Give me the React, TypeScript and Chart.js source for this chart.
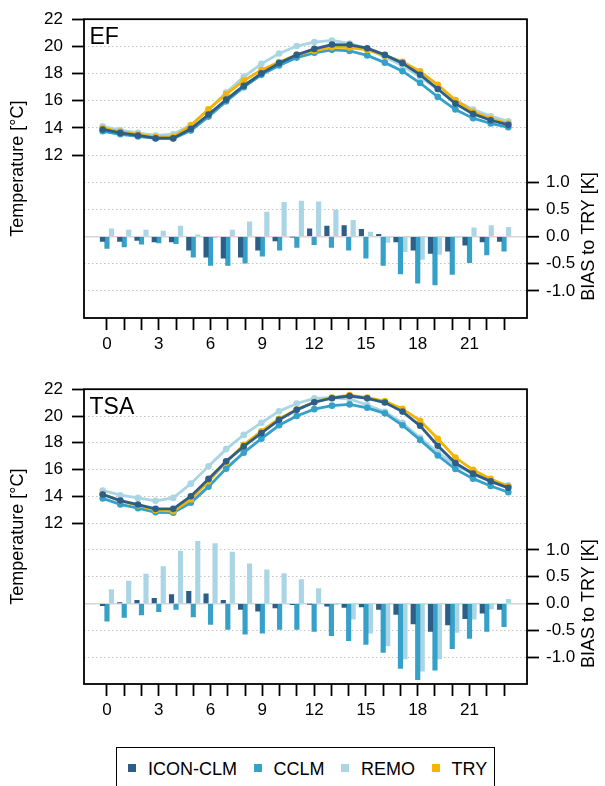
import React, { useEffect, useRef } from "react";
import { Chart, registerables } from "chart.js";

Chart.register(...registerables);

const FAMILY = "'Liberation Sans', Arial, Helvetica, sans-serif";

const HOURS = [0, 1, 2, 3, 4, 5, 6, 7, 8, 9, 10, 11, 12, 13, 14, 15, 16, 17, 18, 19, 20, 21, 22, 23];
const X_LABELED = [0, 3, 6, 9, 12, 15, 18, 21];
const TEMP_TICKS = [12, 14, 16, 18, 20, 22];
const BIAS_TICKS = [-1, -0.5, 0, 0.5, 1];
const SERIES_NAMES = ["ICON-CLM", "CCLM", "REMO", "TRY"];
const SERIES_COLORS = ["#2c5e87", "#35a1c9", "#a9d5e5", "#f6b400"];
const TEMP_TITLE = "Temperature [°C]";
const BIAS_TITLE = "BIAS to TRY [K]";

// ---- EF ----
const EF_ICON = [13.87, 13.62, 13.43, 13.23, 13.23, 13.92, 14.97, 16.07, 17.09, 18.0, 18.75, 19.36, 19.8, 20.12, 20.1, 19.85, 19.36, 18.75, 17.9, 16.85, 15.77, 15.02, 14.55, 14.21];
const EF_CCLM = [13.74, 13.52, 13.36, 13.21, 13.2, 13.79, 14.82, 15.94, 16.98, 17.89, 18.58, 19.16, 19.51, 19.73, 19.65, 19.32, 18.79, 18.16, 17.29, 16.27, 15.34, 14.7, 14.31, 14.03];
const EF_REMO = [14.1, 13.83, 13.62, 13.43, 13.52, 14.2, 15.33, 16.59, 17.74, 18.7, 19.46, 20.01, 20.3, 20.42, 20.2, 19.8, 19.21, 18.57, 17.73, 16.83, 16.03, 15.34, 14.85, 14.47];
const EF_TRY = [13.96, 13.71, 13.5, 13.33, 13.33, 14.17, 15.35, 16.47, 17.47, 18.25, 18.83, 19.36, 19.66, 19.93, 19.9, 19.72, 19.32, 18.85, 18.15, 17.16, 16.04, 15.18, 14.65, 14.3];
const EF_BIAS_ICON = [-0.09, -0.09, -0.07, -0.1, -0.1, -0.25, -0.38, -0.4, -0.38, -0.25, -0.08, -0.01, 0.14, 0.19, 0.2, 0.13, 0.04, -0.1, -0.25, -0.31, -0.27, -0.16, -0.1, -0.09];
const EF_BIAS_CCLM = [-0.22, -0.19, -0.14, -0.12, -0.13, -0.38, -0.53, -0.53, -0.49, -0.36, -0.25, -0.2, -0.15, -0.2, -0.25, -0.4, -0.53, -0.69, -0.86, -0.89, -0.7, -0.48, -0.34, -0.27];
const EF_BIAS_REMO = [0.14, 0.12, 0.12, 0.1, 0.19, 0.03, -0.02, 0.12, 0.27, 0.45, 0.63, 0.65, 0.64, 0.49, 0.3, 0.08, -0.11, -0.28, -0.42, -0.33, -0.01, 0.16, 0.2, 0.17];

// ---- TSA ----
const TSA_ICON = [13.99, 13.54, 13.25, 12.93, 12.93, 13.86, 15.14, 16.44, 17.54, 18.52, 19.5, 20.24, 20.8, 21.1, 21.26, 21.09, 20.78, 20.11, 19.06, 17.59, 16.31, 15.53, 14.96, 14.48];
const TSA_CCLM = [13.7, 13.26, 12.98, 12.68, 12.65, 13.38, 14.57, 15.9, 17.08, 18.11, 19.1, 19.78, 20.29, 20.55, 20.64, 20.39, 19.98, 19.1, 18.02, 16.87, 15.87, 15.16, 14.62, 14.16];
const TSA_REMO = [14.29, 13.94, 13.74, 13.52, 13.74, 14.79, 16.08, 17.34, 18.39, 19.29, 20.14, 20.71, 21.09, 21.14, 21.04, 20.6, 20.1, 19.28, 18.18, 17.08, 16.17, 15.52, 15.04, 14.67];
const TSA_TRY = [14.03, 13.52, 13.19, 12.83, 12.76, 13.63, 14.96, 16.38, 17.65, 18.66, 19.58, 20.26, 20.81, 21.15, 21.33, 21.15, 20.89, 20.31, 19.44, 18.11, 16.71, 15.81, 15.14, 14.59];
const TSA_BIAS_ICON = [-0.04, 0.02, 0.06, 0.1, 0.17, 0.23, 0.18, 0.06, -0.11, -0.14, -0.08, -0.02, -0.01, -0.05, -0.07, -0.06, -0.11, -0.2, -0.38, -0.52, -0.4, -0.28, -0.18, -0.11];
const TSA_BIAS_CCLM = [-0.33, -0.26, -0.21, -0.15, -0.11, -0.25, -0.39, -0.48, -0.57, -0.55, -0.48, -0.48, -0.52, -0.6, -0.69, -0.76, -0.91, -1.21, -1.42, -1.24, -0.84, -0.65, -0.52, -0.43];
const TSA_BIAS_REMO = [0.26, 0.42, 0.55, 0.69, 0.98, 1.16, 1.12, 0.96, 0.74, 0.63, 0.56, 0.45, 0.28, -0.01, -0.29, -0.55, -0.79, -1.03, -1.26, -1.03, -0.54, -0.29, -0.1, 0.08];

const GRID_COLOR = "#c4c4c4";
const ZERO_COLOR = "#d6d6d6";

// layout (pixels)
const AXIS_LEFT_W = 84;
const AXIS_RIGHT_W = 78;
const AXIS_BOTTOM_H = 52;

type PanelProps = {
  name: string;
  top: number;
  height: number;
  padTop: number;
  temps: number[][]; // ICON, CCLM, REMO, TRY
  bias: number[][]; // ICON, CCLM, REMO
};

function toXY(vals: number[]) {
  return HOURS.map((h, i) => ({ x: h, y: vals[i] }));
}

function Panel({ name, top, height, padTop, temps, bias }: PanelProps) {
  const barRef = useRef<HTMLCanvasElement>(null);
  const lineRef = useRef<HTMLCanvasElement>(null);

  useEffect(() => {
    const framePlugin = {
      id: "frame",
      afterDraw(chart: any) {
        const { ctx, chartArea: a } = chart;
        ctx.save();
        ctx.strokeStyle = "#000";
        ctx.lineWidth = 1.8;
        ctx.strokeRect(a.left, a.top, a.right - a.left, a.bottom - a.top);
        ctx.fillStyle = "#000";
        ctx.font = `23px ${FAMILY}`;
        ctx.textAlign = "left";
        ctx.textBaseline = "alphabetic";
        ctx.fillText(name, a.left + 5.5, a.top + 24.3);
        const y0 = chart.scales.yb.getPixelForValue(0);
        ctx.translate(589, y0);
        ctx.rotate(-Math.PI / 2);
        ctx.font = `18px ${FAMILY}`;
        ctx.textAlign = "center";
        ctx.textBaseline = "middle";
        ctx.fillText(BIAS_TITLE, 0, 0);
        ctx.restore();
      },
    };

    const barDs = [0, 1, 2].map((k) => ({
      label: SERIES_NAMES[k],
      data: toXY(bias[k]),
      xAxisID: "x",
      yAxisID: "yb",
      backgroundColor: SERIES_COLORS[k],
      borderWidth: 0,
      barThickness: 4.5,
      grouped: true,
    }));

    const tickFont = { family: FAMILY, size: 17 };

    const barChart = new Chart(barRef.current as HTMLCanvasElement, {
      type: "bar",
      data: { datasets: barDs as any },
      options: {
        animation: false,
        responsive: false,
        maintainAspectRatio: false,
        layout: { padding: { top: padTop, left: 0, right: 0, bottom: 0 } },
        plugins: { legend: { display: false }, tooltip: { enabled: false } },
        scales: {
          x: {
            type: "linear",
            position: "bottom",
            offset: false,
            bounds: "data",
            min: -1.33,
            max: 24.33,
            afterBuildTicks: (s: any) => {
              s.ticks = HOURS.map((v) => ({ value: v }));
            },
            afterFit: (s: any) => {
              s.height = AXIS_BOTTOM_H;
            },
            ticks: {
              autoSkip: false,
              maxRotation: 0,
              minRotation: 0,
              padding: 4,
              color: "#000",
              font: tickFont,
              callback: (v: any) => (X_LABELED.includes(Number(v)) ? String(v) : ""),
            },
            grid: {
              offset: false,
              drawOnChartArea: false,
              drawTicks: true,
              tickLength: 12,
              tickWidth: 1.8,
              tickColor: "#000",
            },
            border: { display: false },
          },
          yt: {
            type: "linear",
            position: "left",
            min: 0,
            max: 22,
            afterBuildTicks: (s: any) => {
              s.ticks = TEMP_TICKS.map((v) => ({ value: v }));
            },
            afterFit: (s: any) => {
              s.width = AXIS_LEFT_W;
            },
            ticks: { color: "#000", font: tickFont, padding: 9 },
            grid: {
              color: GRID_COLOR,
              lineWidth: 1,
              tickLength: 12,
              tickWidth: 1.8,
              tickColor: "#000",
            },
            border: { display: false, dash: [1.5, 2.5] },
            title: {
              display: true,
              text: TEMP_TITLE,
              color: "#000",
              font: { family: FAMILY, size: 18 },
              padding: { top: 7.5, bottom: 0 },
            },
          },
          yb: {
            type: "linear",
            position: "right",
            min: -1.5,
            max: 4,
            afterBuildTicks: (s: any) => {
              s.ticks = BIAS_TICKS.map((v) => ({ value: v }));
            },
            afterFit: (s: any) => {
              s.width = AXIS_RIGHT_W;
            },
            ticks: {
              color: "#000",
              font: tickFont,
              padding: 7,
              callback: (v: any) => Number(v).toFixed(1),
            },
            grid: {
              color: (c: any) => (c.tick && c.tick.value === 0 ? ZERO_COLOR : GRID_COLOR),
              lineWidth: (c: any) => (c.tick && c.tick.value === 0 ? 1.5 : 1),
              tickLength: 12,
              tickWidth: 1.8,
              tickColor: "#000",
            },
            border: {
              display: false,
              dash: (c: any) => (c.tick && c.tick.value === 0 ? [] : [1.5, 2.5]),
            } as any,
          },
        },
      } as any,
      plugins: [framePlugin],
    });

    // draw order: REMO bottom, CCLM, TRY, ICON on top
    const lineOrder = [1, 3, 4, 2];
    const lineDs = [0, 1, 2, 3].map((k) => ({
      label: SERIES_NAMES[k],
      data: toXY(temps[k]),
      borderColor: SERIES_COLORS[k],
      backgroundColor: SERIES_COLORS[k],
      borderWidth: 2.8,
      pointRadius: 3.3,
      pointBorderWidth: 0,
      pointBackgroundColor: SERIES_COLORS[k],
      tension: 0,
      fill: false,
      order: lineOrder[k],
    }));

    const lineChart = new Chart(lineRef.current as HTMLCanvasElement, {
      type: "line",
      data: { datasets: lineDs as any },
      options: {
        animation: false,
        responsive: false,
        maintainAspectRatio: false,
        layout: {
          padding: { top: padTop, left: AXIS_LEFT_W, right: AXIS_RIGHT_W, bottom: AXIS_BOTTOM_H },
        },
        plugins: { legend: { display: false }, tooltip: { enabled: false } },
        scales: {
          x: { type: "linear", display: false, bounds: "data", offset: false, min: -1.06, max: 24.06 },
          y: { type: "linear", display: false, min: 0, max: 22 },
        },
      } as any,
    });

    return () => {
      barChart.destroy();
      lineChart.destroy();
    };
  }, []);

  const st: React.CSSProperties = { position: "absolute", left: 0, top, width: 605, height, display: "block" };
  return (
    <>
      <canvas ref={barRef} width={605} height={height} style={st} />
      <canvas ref={lineRef} width={605} height={height} style={{ ...st, pointerEvents: "none" }} />
    </>
  );
}

function Legend() {
  return (
    <div
      style={{
        position: "absolute",
        left: 116,
        top: 746.5,
        width: 379,
        height: 60,
        boxSizing: "border-box",
        border: "1.6px solid #000",
        paddingLeft: 11,
        paddingTop: 11.5,
        display: "flex",
        flexWrap: "nowrap",
        alignItems: "flex-start",
        fontFamily: FAMILY,
        fontSize: 18,
        lineHeight: "20px",
        color: "#000",
        whiteSpace: "nowrap",
      }}
    >
      {SERIES_NAMES.map((n, i) => (
        <div key={n} style={{ display: "flex", alignItems: "center", marginRight: 16.5, flexShrink: 0 }}>
          <span
            style={{
              display: "inline-block",
              width: 8,
              height: 8,
              background: SERIES_COLORS[i],
              marginRight: 12,
              position: "relative",
              top: -1.5,
              flexShrink: 0,
            }}
          />
          <span style={{ whiteSpace: "nowrap" }}>{n}</span>
        </div>
      ))}
    </div>
  );
}

export default function App() {
  return (
    <div
      style={{
        position: "fixed",
        left: 0,
        top: 0,
        width: 605,
        height: 786,
        overflow: "hidden",
        background: "#fff",
      }}
    >
      <Panel
        name="EF"
        top={0}
        height={370}
        padTop={19}
        temps={[EF_ICON, EF_CCLM, EF_REMO, EF_TRY]}
        bias={[EF_BIAS_ICON, EF_BIAS_CCLM, EF_BIAS_REMO]}
      />
      <Panel
        name="TSA"
        top={370}
        height={366}
        padTop={16}
        temps={[TSA_ICON, TSA_CCLM, TSA_REMO, TSA_TRY]}
        bias={[TSA_BIAS_ICON, TSA_BIAS_CCLM, TSA_BIAS_REMO]}
      />
      <Legend />
    </div>
  );
}
